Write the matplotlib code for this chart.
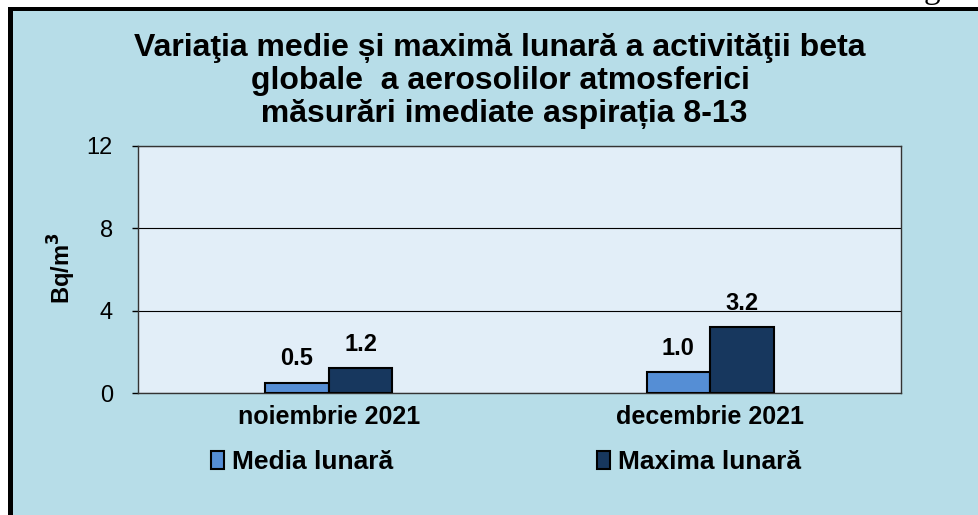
import numpy as np
import matplotlib.pyplot as plt
from matplotlib.patches import Rectangle

plt.rcParams["font.family"] = ["Liberation Sans", "DejaVu Sans"]

# chart data
months = ["noiembrie 2021", "decembrie 2021"]
media_lunara = [0.5, 1.0]
maxima_lunara = [1.2, 3.2]
series_names = ["Media lunară", "Maxima lunară"]
yticks = [0, 4, 8, 12]

title = ("Variaţia medie și maximă lunară a activităţii beta\n"
         "globale  a aerosolilor atmosferici\n"
         " măsurări imediate aspirația 8-13")

W, H = 979, 515
fig = plt.figure(figsize=(W / 100, H / 100), dpi=100)
fig.patch.set_facecolor("white")

# outer frame: black border on left/top, light blue fill
fig.patches.append(Rectangle((8 / W, 0), 1, 1 - 7 / H, transform=fig.transFigure,
                             facecolor="black", edgecolor="none", zorder=-2))
fig.patches.append(Rectangle((13 / W, 0), 1, 1 - 11 / H, transform=fig.transFigure,
                             facecolor="#b7dde8", edgecolor="none", zorder=-1))
# clipped glyph of the page text above the frame
fig.text(932 / W, 1 + 2 / H, "g", fontsize=24, family="Liberation Serif",
         ha="center", va="baseline", zorder=-3)

ax = fig.add_axes([138 / W, 1 - 393 / H, (901 - 138) / W, (393 - 146) / H])
ax.set_zorder(2)
ax.set_facecolor("#e2eef8")

x = np.arange(len(months))
w = 0.167
b1 = ax.bar(x - w / 2, media_lunara, w, color="#558ed5", edgecolor="black",
            linewidth=1.5, label=series_names[0], zorder=3)
b2 = ax.bar(x + w / 2, maxima_lunara, w, color="#17375e", edgecolor="black",
            linewidth=1.5, label=series_names[1], zorder=3)

for bars, vals in [(b1, media_lunara), (b2, maxima_lunara)]:
    for r, v in zip(bars, vals):
        ax.annotate(f"{v:.1f}", (r.get_x() + r.get_width() / 2, v),
                    xytext=(0, 9), textcoords="offset points",
                    ha="center", va="bottom", fontsize=17, fontweight="bold")

ax.set_xlim(-0.5, len(months) - 0.5)
ax.set_ylim(0, 12)
ax.set_yticks(yticks)
ax.set_yticklabels([str(t) for t in yticks], fontsize=17)
ax.tick_params(axis="y", length=4, width=1, pad=14)
ax.set_xticks(x)
ax.set_xticklabels(months, fontsize=18, fontweight="bold")
ax.tick_params(axis="x", length=0, pad=9)
ax.grid(axis="y", color="black", linewidth=0.8, zorder=1)
for s in ax.spines.values():
    s.set_color("#333333")
    s.set_linewidth(1)

ax.set_ylabel("Bq/m$^\\mathbf{3}$", fontsize=17, fontweight="bold")
ax.yaxis.set_label_coords(78 / W, 1 - 268 / H, transform=fig.transFigure)

fig.text(500 / W, 1 - 81 / H, title, ha="center", va="center",
         fontsize=23, fontweight="bold", linespacing=1.15)

fig.legend(handles=[b1, b2], labels=series_names, loc="center",
           bbox_to_anchor=(506 / W, 1 - 462 / H), ncol=2, frameon=False,
           prop={"weight": "bold", "size": 19},
           handlelength=0.5, handleheight=0.7, handletextpad=0.3,
           columnspacing=7.7)

fig.savefig("out.png", dpi=100)
